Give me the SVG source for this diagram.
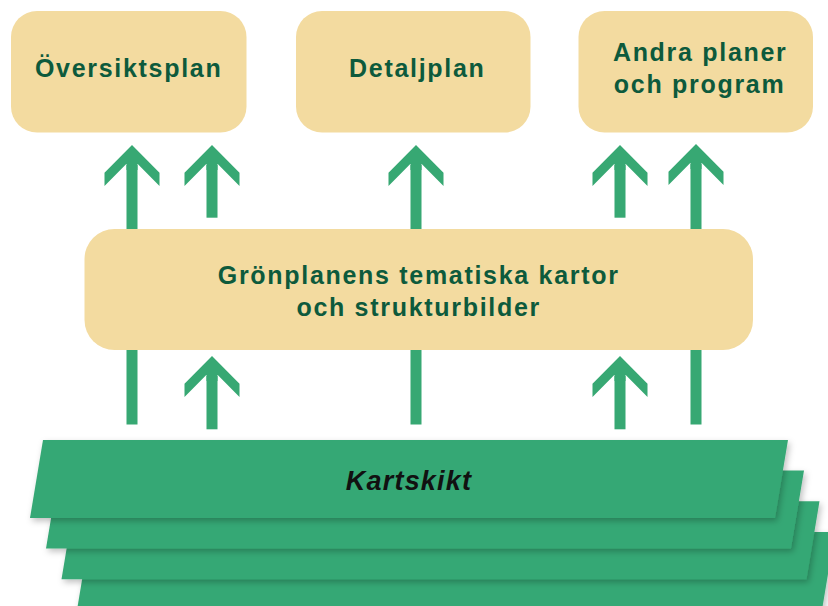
<svg xmlns="http://www.w3.org/2000/svg" xmlns:xlink="http://www.w3.org/1999/xlink" width="828" height="606" viewBox="0 0 828 606">
  <style>
    .box { fill: #f3dba0; }
    .lbl { font-family: "Liberation Sans", Arial, sans-serif; font-weight: bold; font-size: 25px; letter-spacing: 1.7px; fill: #0d5a3c; text-anchor: middle; }
    .arr { fill: #37a873; }
    .layer { fill: #36a874; filter: url(#sh); }
    .klbl { font-family: "Liberation Sans", Arial, sans-serif; font-weight: bold; font-style: italic; font-size: 27px; letter-spacing: 1.2px; fill: #111; text-anchor: middle; }
  </style>
  <defs>
    <filter id="sh" x="-5%" y="-20%" width="110%" height="150%">
      <feDropShadow dx="2" dy="3" stdDeviation="3" flood-color="#000" flood-opacity="0.25"/>
    </filter>
    <path id="head" d="M0,0 L27.5,27.7 L27.5,41 L5.5,18.8 L5.5,25 L-5.5,25 L-5.5,18.8 L-27.5,41 L-27.5,27.7 Z"/>
  </defs>

  <g id="layers">
    <polygon class="layer" points="90,532 835,532 822,610 77,610"/>
    <polygon class="layer" points="74.5,501.3 819.5,501.3 806.5,579.3 61.5,579.3"/>
    <polygon class="layer" points="59,470.5 804,470.5 791,548.5 46,548.5"/>
    <g id="kartskikt">
      <polygon class="layer" points="43,440 788,440 775,518 30,518"/>
      <text class="klbl" x="409" y="490">Kartskikt</text>
    </g>
  </g>

  <g id="connectors" class="arr">
    <use xlink:href="#head" href="#head" x="132" y="145"/>
    <rect x="126.5" y="165" width="11" height="64"/>
    <use xlink:href="#head" href="#head" x="212" y="145"/>
    <rect x="206.5" y="165" width="11" height="52.7"/>
    <use xlink:href="#head" href="#head" x="416" y="145"/>
    <rect x="410.5" y="165" width="11" height="64"/>
    <use xlink:href="#head" href="#head" x="620" y="145"/>
    <rect x="614.5" y="165" width="11" height="52.7"/>
    <use xlink:href="#head" href="#head" x="696" y="144"/>
    <rect x="690.5" y="164" width="11" height="65"/>
    <rect x="126.5" y="350" width="11" height="74.5"/>
    <use xlink:href="#head" href="#head" x="212" y="356"/>
    <rect x="206.5" y="376" width="11" height="53.3"/>
    <rect x="410.5" y="350" width="11" height="74.5"/>
    <use xlink:href="#head" href="#head" x="620" y="356"/>
    <rect x="614.5" y="376" width="11" height="53.3"/>
    <rect x="690.5" y="350" width="11" height="74.5"/>
  </g>

  <g id="oversiktsplan">
    <rect class="box" x="11" y="11" width="235.5" height="121.5" rx="26" ry="26"/>
    <text class="lbl" x="128.7" y="77.3">Översiktsplan</text>
  </g>
  <g id="detaljplan">
    <rect class="box" x="296" y="11" width="234.5" height="121.5" rx="26" ry="26"/>
    <text class="lbl" x="417.3" y="77.3">Detaljplan</text>
  </g>
  <g id="andra">
    <rect class="box" x="578.5" y="11" width="234.5" height="121.5" rx="26" ry="26"/>
    <text class="lbl" x="700.2" y="60.7">Andra planer</text>
    <text class="lbl" x="699.6" y="93.3">och program</text>
  </g>
  <g id="gronplan">
    <rect class="box" x="84.5" y="229" width="668.5" height="121" rx="30" ry="30"/>
    <text class="lbl" x="418.7" y="284">Grönplanens tematiska kartor</text>
    <text class="lbl" x="418.7" y="315.7">och strukturbilder</text>
  </g>
</svg>
